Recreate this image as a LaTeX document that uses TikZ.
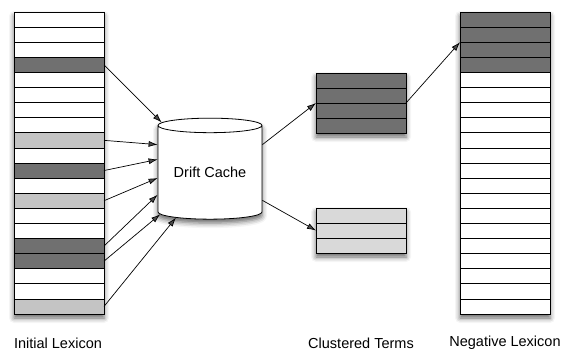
\documentclass[tikz,border=0pt]{standalone}
\usepackage{fontspec}
\setmainfont{Liberation Sans}
\usetikzlibrary{positioning,shapes.geometric,arrows.meta,shadows.blur}

\definecolor{darkrow}{gray}{0.44}
\definecolor{lightrow}{gray}{0.77}
\definecolor{palerow}{gray}{0.85}

\begin{document}
\begin{tikzpicture}[x=1pt,y=-1pt,every node/.style={black},
	row/.style={draw, line width=0.8pt, minimum width=90pt, minimum height=15.1pt, inner sep=0pt, outer sep=0pt, fill=white},
	dk/.style={row, fill=darkrow},
	lt/.style={row, fill=lightrow},
	pl/.style={row, fill=palerow, minimum height=15pt},
	feed/.style={-{Latex[length=9pt,width=6pt]}, line width=0.7pt},
	softshadow/.style={blur shadow={shadow xshift=0pt, shadow yshift=-4pt, shadow blur radius=5pt, shadow opacity=60}},
	lexname/.style={font=\fontsize{14.5}{16}\selectfont}]
	\useasboundingbox (0,0) rectangle (562,350);

%	shadows behind the stacks
	\fill[white, softshadow] (14,12) rectangle (104,314);
	\fill[white, softshadow] (460,12) rectangle (550,314);
	\fill[white, softshadow] (316,73) rectangle (406,133);
	\fill[white, softshadow] (316,208) rectangle (406,253);

%	initial lexicon
	\node[row] (l1) at (59,19.55) {};
	\node[row, below=0pt of l1] (l2) {};
	\node[row, below=0pt of l2] (l3) {};
	\node[dk, below=0pt of l3] (l4) {};
	\node[row, below=0pt of l4] (l5) {};
	\node[row, below=0pt of l5] (l6) {};
	\node[row, below=0pt of l6] (l7) {};
	\node[row, below=0pt of l7] (l8) {};
	\node[lt, below=0pt of l8] (l9) {};
	\node[row, below=0pt of l9] (l10) {};
	\node[dk, below=0pt of l10] (l11) {};
	\node[row, below=0pt of l11] (l12) {};
	\node[lt, below=0pt of l12] (l13) {};
	\node[row, below=0pt of l13] (l14) {};
	\node[row, below=0pt of l14] (l15) {};
	\node[dk, below=0pt of l15] (l16) {};
	\node[dk, below=0pt of l16] (l17) {};
	\node[row, below=0pt of l17] (l18) {};
	\node[row, below=0pt of l18] (l19) {};
	\node[lt, below=0pt of l19] (l20) {};

%	negative lexicon
	\node[dk] (n1) at (505,19.55) {};
	\node[dk, below=0pt of n1] (n2) {};
	\node[dk, below=0pt of n2] (n3) {};
	\node[dk, below=0pt of n3] (n4) {};
	\node[row, below=0pt of n4] (n5) {};
	\node[row, below=0pt of n5] (n6) {};
	\node[row, below=0pt of n6] (n7) {};
	\node[row, below=0pt of n7] (n8) {};
	\node[row, below=0pt of n8] (n9) {};
	\node[row, below=0pt of n9] (n10) {};
	\node[row, below=0pt of n10] (n11) {};
	\node[row, below=0pt of n11] (n12) {};
	\node[row, below=0pt of n12] (n13) {};
	\node[row, below=0pt of n13] (n14) {};
	\node[row, below=0pt of n14] (n15) {};
	\node[row, below=0pt of n15] (n16) {};
	\node[row, below=0pt of n16] (n17) {};
	\node[row, below=0pt of n17] (n18) {};
	\node[row, below=0pt of n18] (n19) {};
	\node[row, below=0pt of n19] (n20) {};

%	clustered terms
	\node[dk, minimum height=15pt] (c1) at (361,80.5) {};
	\node[dk, minimum height=15pt, below=0pt of c1] (c2) {};
	\node[dk, minimum height=15pt, below=0pt of c2] (c3) {};
	\node[dk, minimum height=15pt, below=0pt of c3] (c4) {};
	\node[pl] (p1) at (361,215.5) {};
	\node[pl, below=0pt of p1] (p2) {};
	\node[pl, below=0pt of p2] (p3) {};

%	drift cache
	\node[cylinder, shape border rotate=90, aspect=0.2, draw, line width=0.8pt, fill=white,
		minimum width=104pt, minimum height=101pt, inner sep=0pt, softshadow, lexname] (cache) at (210,172.5) {Drift Cache};

	\draw[feed] (l4.east) -- (cache.134);
	\draw[feed] (l9.east) -- (cache.152);
	\draw[feed] (l11.east) -- (cache.166);
	\draw[feed] (l13.east) -- (cache.186);
	\draw[feed] (l16.east) -- (cache.203);
	\draw[feed] (l17.east) -- (cache.220);
	\draw[feed] (l20.east) -- (cache.233);

	\draw[feed] (cache.28) -- (c2.south west);
	\draw[feed] (cache.-28) -- (p2.west);
	\draw[feed] (c2.south east) -- (n2.south west);

	\node[lexname] (initial) at (58,343) {Initial Lexicon};
	\node[lexname] (clustered) at (361,343) {Clustered Terms};
	\node[lexname] (negative) at (505,343) {Negative Lexicon};
\end{tikzpicture}
\end{document}
